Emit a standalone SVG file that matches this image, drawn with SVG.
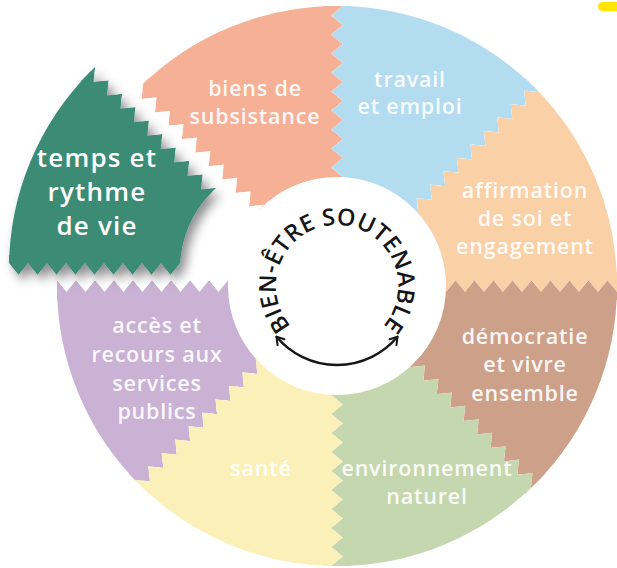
<svg xmlns="http://www.w3.org/2000/svg" width="617" height="568" viewBox="0 0 617 568">
<style>
.lbl{font-family:"Open Sans","Liberation Sans",sans-serif;font-weight:600;font-size:21.5px;letter-spacing:0.8px;fill:#ffffff;fill-opacity:0.93;text-anchor:middle}
.big{font-size:26px;letter-spacing:1.2px;fill-opacity:1}
.title{font-family:"Open Sans","Liberation Sans",sans-serif;font-weight:600;font-size:23.5px;letter-spacing:0.3px;fill:#161616}
.arrow{fill:none;stroke:#161616;stroke-width:2.4;stroke-linecap:round}
</style>
<defs>
<path id="wedge" d="M109,0 L280,0 A280,280 0 0 0 197.99,-197.99 L77.07,-77.07 A109,109 0 0 1 109,0 Z"/>
<path id="zzA" d="M109,-14 L280,-14 L280,6 L270.5,-6 L261,6 L251.5,-6 L242,6 L232.5,-6 L223,6 L213.5,-6 L204,6 L194.5,-6 L185,6 L175.5,-6 L166,6 L156.5,-6 L147,6 L137.5,-6 L128,6 L118.5,-6 L109,6 Z"/>
<path id="zzB" d="M109,6 L118.5,-6 L128,6 L137.5,-6 L147,6 L156.5,-6 L166,6 L175.5,-6 L185,6 L194.5,-6 L204,6 L213.5,-6 L223,6 L232.5,-6 L242,6 L251.5,-6 L261,6 L270.5,-6 L280,6 L280,14 L109,14 Z"/>
<mask id="sm" maskUnits="userSpaceOnUse" x="-300" y="-300" width="600" height="600">
<use href="#wedge" fill="#fff"/>
<use href="#zzA" fill="#fff"/>
<use href="#zzB" fill="#000"/>
<g transform="rotate(-45)">
<use href="#zzB" fill="#fff"/>
<use href="#zzA" fill="#000"/>
</g>
</mask>
<filter id="shadow" x="-30%" y="-30%" width="160%" height="160%">
<feDropShadow dx="5" dy="6" stdDeviation="5.5" flood-color="#000" flood-opacity="0.45"/>
</filter>
<path id="tarc" d="M337,347 A61,61 0 1 1 337,225 A61,61 0 1 1 337,347"/>
<marker id="ah" markerUnits="userSpaceOnUse" viewBox="0 0 12 12" refX="10" refY="6" markerWidth="12" markerHeight="12" orient="auto-start-reverse">
<path d="M3,1.5 L10,6 L3,10.5" fill="none" stroke="#161616" stroke-width="2" stroke-linecap="round" stroke-linejoin="round"/>
</marker>
</defs>

<g id="affirmation">
<g transform="translate(337,286)"><rect x="-290" y="-290" width="580" height="580" fill="#fad0a6" mask="url(#sm)"/></g>
<text class="lbl" x="525" y="198">affirmation</text>
<text class="lbl" x="525" y="226">de soi et</text>
<text class="lbl" x="525" y="254">engagement</text>
</g>

<g id="travail">
<g transform="translate(337,286) rotate(-45)"><rect x="-290" y="-290" width="580" height="580" fill="#b4dcf0" mask="url(#sm)"/></g>
<text class="lbl" x="410" y="87">travail</text>
<text class="lbl" x="410" y="114">et emploi</text>
</g>

<g id="biens">
<g transform="translate(337,286) rotate(-90)"><rect x="-290" y="-290" width="580" height="580" fill="#f5b096" mask="url(#sm)"/></g>
<text class="lbl" x="255" y="96">biens de</text>
<text class="lbl" x="255" y="124">subsistance</text>
</g>

<g id="services">
<g transform="translate(337,286) rotate(-180)"><rect x="-290" y="-290" width="580" height="580" fill="#c9b2d4" mask="url(#sm)"/></g>
<text class="lbl" x="157" y="333">accès et</text>
<text class="lbl" x="157" y="362">recours aux</text>
<text class="lbl" x="157" y="391">services</text>
<text class="lbl" x="157" y="419">publics</text>
</g>

<g id="sante">
<g transform="translate(337,286) rotate(-225)"><rect x="-290" y="-290" width="580" height="580" fill="#fcf0b9" mask="url(#sm)"/></g>
<text class="lbl" x="261" y="476">santé</text>
</g>

<g id="environnement">
<g transform="translate(337,286) rotate(-270)"><rect x="-290" y="-290" width="580" height="580" fill="#c5d7af" mask="url(#sm)"/></g>
<text class="lbl" x="427" y="476">environnement</text>
<text class="lbl" x="427" y="504">naturel</text>
</g>

<g id="democratie">
<g transform="translate(337,286) rotate(-315)"><rect x="-290" y="-290" width="580" height="580" fill="#cda08a" mask="url(#sm)"/></g>
<text class="lbl" x="525" y="344">démocratie</text>
<text class="lbl" x="525" y="372">et vivre</text>
<text class="lbl" x="525" y="401">ensemble</text>
</g>

<g id="temps">
<g filter="url(#shadow)"><g transform="translate(289,269) rotate(-135)"><rect x="-290" y="-290" width="580" height="580" fill="#3a8b75" mask="url(#sm)"/></g></g>
<text class="lbl big" x="97" y="167">temps et</text>
<text class="lbl big" x="97" y="201">rythme</text>
<text class="lbl big" x="97" y="235">de vie</text>
</g>

<g id="centre">
<text class="title"><textPath href="#tarc" startOffset="50%" text-anchor="middle">BIEN-ÊTRE SOUTENABLE</textPath></text>
</g>

<g id="connectors">
<path class="arrow" d="M276.5,336.8 A79,79 0 0 0 397.5,336.8" marker-start="url(#ah)" marker-end="url(#ah)"/>
</g>

<rect id="marker-pill" x="598" y="2" width="26" height="9" rx="4.5" fill="#ffe500"/>
</svg>
